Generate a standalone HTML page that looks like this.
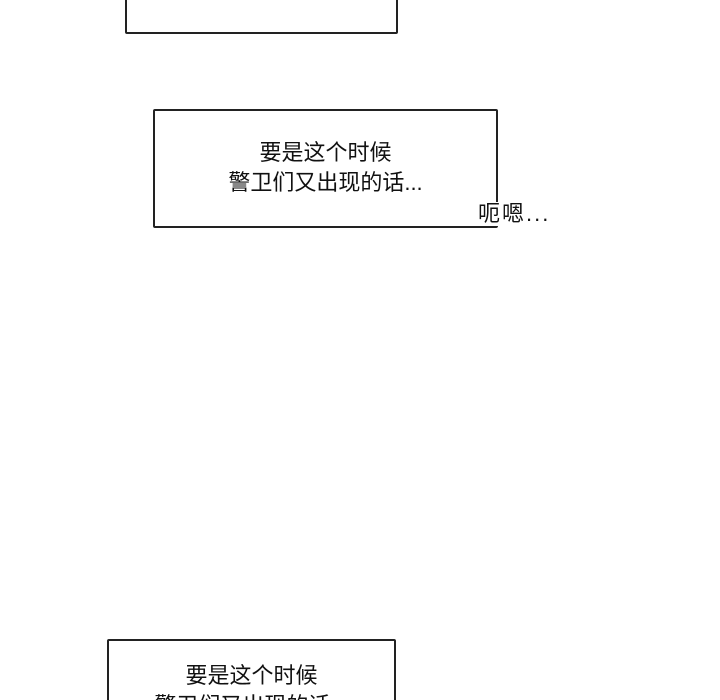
<!DOCTYPE html>
<html style="height:700px;overflow:hidden"><head><meta charset="utf-8"><style>
body{margin:0;width:720px;height:700px;background:#fff;position:relative;overflow:hidden;font-family:"Liberation Sans","Noto Sans CJK SC",sans-serif;color:#111}
.b{position:absolute;border:2px solid #222;border-radius:2px;background:#fff;box-sizing:border-box}
.t{position:absolute;font-size:22px;line-height:30px;text-align:center;white-space:nowrap}
</style></head><body>
<div class="b" style="left:125px;top:-20px;width:273px;height:54px"></div>
<div class="b" style="left:153px;top:109px;width:345px;height:119px"></div>
<div class="t" style="left:153px;width:345px;top:138px">要是这个时候<br>警卫们又出现的话...</div>
<div style="position:absolute;left:478px;top:202px;font-size:22px;line-height:24px;background:#fff;white-space:nowrap;letter-spacing:2px">呃嗯...</div>
<div class="b" style="left:107px;top:639px;width:289px;height:90px"></div>
<div class="t" style="left:107px;width:289px;top:661px">要是这个时候<br>警卫们又出现的话...</div>
</body></html>
